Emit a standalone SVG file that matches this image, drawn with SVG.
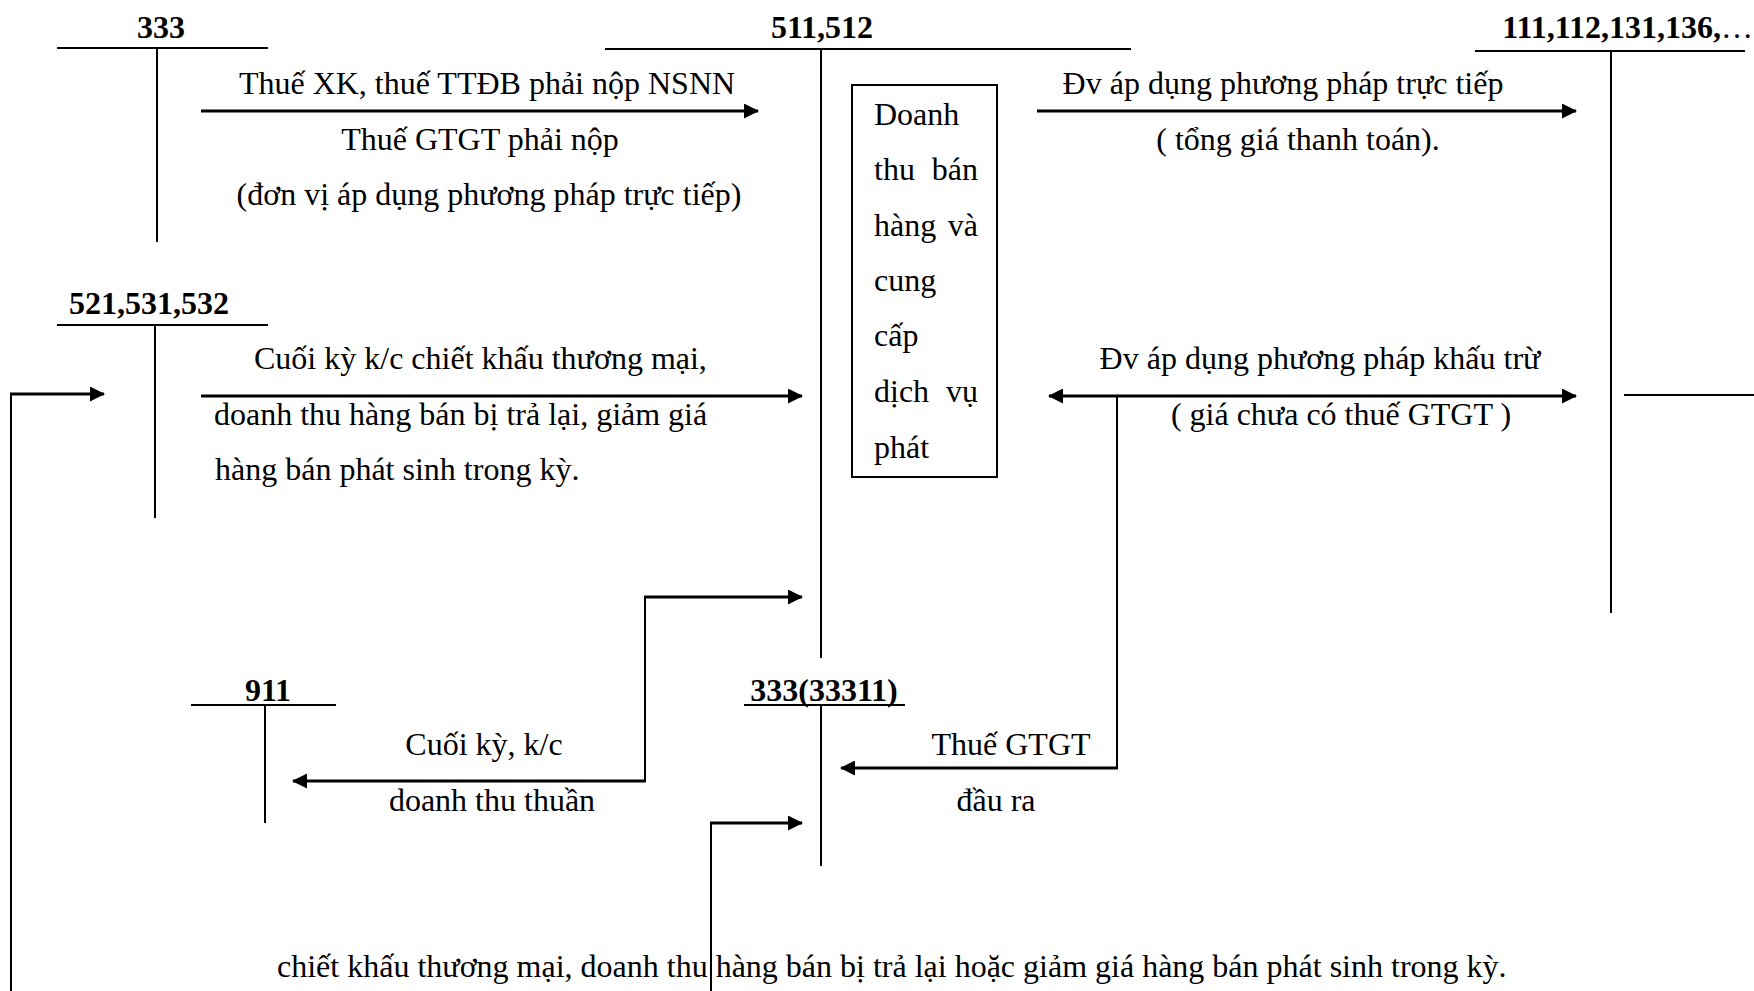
<svg xmlns="http://www.w3.org/2000/svg" width="1754" height="991" viewBox="0 0 1754 991">
<style>
text{font-family:"Liberation Serif","Times New Roman",serif;font-size:32px;fill:#000}
.acc{font-weight:bold;text-anchor:middle}
.mid{text-anchor:middle}
.end{text-anchor:end}
.tl{stroke:#000;stroke-width:2;fill:none}
.ar{stroke:#000;stroke-width:3;fill:none;marker-end:url(#ah)}
.ln{stroke:#000;stroke-width:2;fill:none}
</style>
<defs>
<marker id="ah" viewBox="0 0 15 15" refX="14" refY="7.5" markerWidth="15" markerHeight="15" markerUnits="userSpaceOnUse" orient="auto-start-reverse">
<path d="M0,0 L15,7.5 L0,15 z" fill="#000"/>
</marker>
</defs>
<rect width="1754" height="991" fill="#fff"/>

<g id="acc-333">
<text class="acc" x="161" y="38">333</text>
<line class="tl" x1="57" y1="48" x2="268" y2="48"/>
<line class="tl" x1="157" y1="48" x2="157" y2="242"/>
</g>

<g id="acc-511">
<text class="acc" x="822" y="38">511,512</text>
<line class="tl" x1="605" y1="49" x2="1131" y2="49"/>
<line class="tl" x1="821" y1="49" x2="821" y2="658"/>
</g>

<g id="acc-111">
<text class="end" x="1753" y="38"><tspan font-weight="bold">111,112,131,136,</tspan>…</text>
<line class="tl" x1="1475" y1="51" x2="1745" y2="51"/>
<line class="tl" x1="1611" y1="51" x2="1611" y2="613"/>
</g>

<g id="acc-521">
<text class="acc" x="149" y="314">521,531,532</text>
<line class="tl" x1="57" y1="325" x2="268" y2="325"/>
<line class="tl" x1="155" y1="325" x2="155" y2="518"/>
</g>

<g id="acc-911">
<text class="acc" x="268" y="701">911</text>
<line class="tl" x1="191" y1="705" x2="336" y2="705"/>
<line class="tl" x1="265" y1="705" x2="265" y2="823"/>
</g>

<g id="acc-33311">
<text class="acc" x="824" y="701">333(33311)</text>
<line class="tl" x1="744" y1="705" x2="905" y2="705"/>
<line class="tl" x1="821" y1="705" x2="821" y2="866"/>
</g>

<g id="box-doanhthu">
<rect x="852" y="85" width="145" height="392" fill="none" stroke="#000" stroke-width="2"/>
<text x="874" y="125">Doanh</text>
<text x="874" y="180">thu</text><text class="end" x="978" y="180">bán</text>
<text x="874" y="236">hàng</text><text class="end" x="978" y="236">và</text>
<text x="874" y="291">cung</text>
<text x="874" y="346">cấp</text>
<text x="874" y="402">dịch</text><text class="end" x="978" y="402">vụ</text>
<text x="874" y="458">phát</text>
</g>

<g id="connectors">
<line class="ar" x1="201" y1="111" x2="758" y2="111"/>
<line class="ar" x1="1037" y1="111" x2="1576" y2="111"/>
<line class="ar" x1="201" y1="396" x2="802" y2="396"/>
<line class="ar" x1="1049" y1="396" x2="1576" y2="396" marker-start="url(#ah)"/>
<line class="ln" x1="1117" y1="396" x2="1117" y2="768"/>
<line class="ar" x1="1118" y1="768" x2="841" y2="768"/>
<line class="ln" x1="645" y1="597" x2="645" y2="781"/>
<line class="ar" x1="644" y1="597" x2="802" y2="597"/>
<line class="ar" x1="646" y1="781" x2="293" y2="781"/>
<line class="ln" x1="711" y1="823" x2="711" y2="991"/>
<line class="ar" x1="710" y1="823" x2="802" y2="823"/>
<line class="ln" x1="11" y1="394" x2="11" y2="991" stroke-width="3"/>
<line class="ar" x1="10" y1="394" x2="104" y2="394"/>
<line class="ln" x1="1624" y1="395" x2="1754" y2="395"/>
</g>

<g id="labels">
<text class="mid" x="487" y="94">Thuế XK, thuế TTĐB phải nộp NSNN</text>
<text class="mid" x="480" y="150">Thuế GTGT phải nộp</text>
<text class="mid" x="489" y="205">(đơn vị áp dụng phương pháp trực tiếp)</text>
<text class="mid" x="1283" y="94">Đv áp dụng phương pháp trực tiếp</text>
<text class="mid" x="1298" y="150">( tổng giá thanh toán).</text>
<text x="254" y="369">Cuối kỳ k/c chiết khấu thương mại,</text>
<text x="214" y="425">doanh thu hàng bán bị trả lại, giảm giá</text>
<text x="215" y="480">hàng bán phát sinh trong kỳ.</text>
<text class="mid" x="1320" y="369">Đv áp dụng phương pháp khấu trừ</text>
<text class="mid" x="1341" y="425">( giá chưa có thuế GTGT )</text>
<text class="mid" x="484" y="755">Cuối kỳ, k/c</text>
<text class="mid" x="492" y="811">doanh thu thuần</text>
<text class="mid" x="1011" y="755">Thuế GTGT</text>
<text class="mid" x="996" y="811">đầu ra</text>
<text x="277" y="977">chiết khấu thương mại, doanh thu hàng bán bị trả lại hoặc giảm giá hàng bán phát sinh trong kỳ.</text>
</g>
</svg>
